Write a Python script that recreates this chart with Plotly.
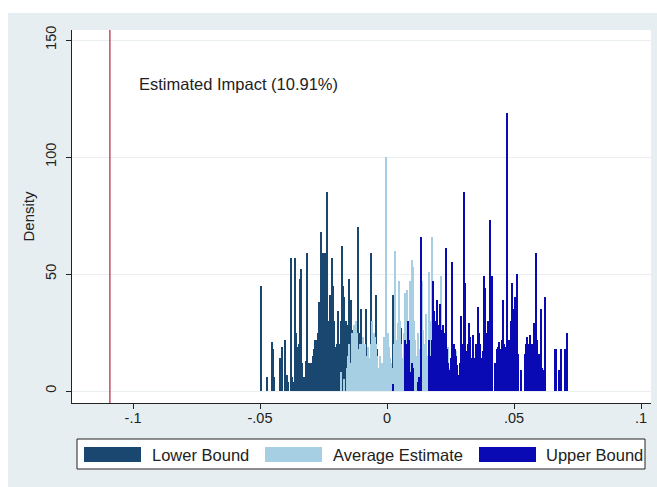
import numpy as np
import plotly.graph_objects as go

# Histogram bins: every series uses the same bin width
bin_width = 0.0005

lower_start = -0.0500
lower_density = [
    45, 0, 0, 0, 0, 6, 0, 0, 0, 21,
    18, 6, 0, 0, 0, 14, 12, 19, 0, 22,
    0, 7, 4, 0, 57, 6, 4, 57, 25, 19,
    20, 48, 52, 12, 6, 0, 13, 59, 12, 6,
    12, 15, 18, 22, 22, 25, 38, 22, 68, 59,
    59, 59, 85, 30, 28, 41, 57, 45, 30, 19,
    20, 34, 20, 30, 62, 45, 40, 30, 28, 12,
    48, 39, 20, 26, 10, 30, 27, 70, 25, 35,
    8, 12, 6, 35, 10, 6, 12, 59, 10, 6,
    8, 41, 18, 5, 6, 0, 4, 0, 3, 0,
    5, 0, 0, 3, 41, 0, 0, 0, 0, 0,
    0, 27,
]

average_start = -0.0200
average_density = [
    0, 0, 0, 8, 0, 0, 5, 0, 10, 15,
    20, 12, 25, 18, 28, 30, 25, 18, 20, 15,
    20, 23, 20, 15, 12, 19, 14, 20, 30, 25,
    23, 20, 15, 10, 15, 10, 12, 23, 18, 100,
    25, 19, 14, 12, 10, 20, 60, 22, 29, 47,
    30, 20, 14, 25, 42, 43, 30, 20, 47, 56,
    53, 30, 22, 15, 25, 18, 12, 47, 26, 20,
    33, 15, 7, 51, 30, 66, 25, 30, 20, 28,
    15, 35, 49, 20, 15, 25, 10, 18, 19, 10,
    14, 8, 12, 6, 17, 8, 5, 4,
]

upper_start = 0.0000
upper_density = [
    0, 0, 0, 0, 3, 0, 0, 0, 0, 0,
    0, 0, 0, 0, 22, 20, 30, 22, 8, 12,
    10, 0, 0, 0, 4, 6, 66, 0, 0, 0,
    0, 0, 0, 22, 15, 22, 47, 34, 30, 39,
    28, 37, 26, 20, 28, 25, 61, 18, 12, 9,
    14, 55, 20, 18, 15, 11, 7, 12, 32, 20,
    85, 46, 17, 20, 29, 23, 14, 24, 14, 8,
    20, 36, 25, 20, 14, 17, 49, 44, 25, 30,
    17, 73, 49, 0, 0, 12, 18, 19, 21, 18,
    22, 39, 20, 19, 119, 5, 22, 30, 46, 35,
    40, 35, 50, 16, 0, 9, 0, 0, 16, 20,
    23, 20, 24, 18, 20, 29, 20, 59, 22, 16,
    0, 35, 10, 9, 40, 0, 0, 0, 0, 0,
    0, 0, 18, 18, 0, 9, 0, 18, 0, 0,
    18, 25,
]

series_names = ["Lower Bound", "Average Estimate", "Upper Bound"]
series_colors = ["#1a476f", "#a6cfe3", "#0a0ab4"]

estimated_impact = -0.1091
impact_label = "Estimated Impact (10.91%)"

x_tickvals = [-0.1, -0.05, 0, 0.05, 0.1]
x_ticktext = ["-.1", "-.05", "0", ".05", ".1"]
y_tickvals = [0, 50, 100, 150]

FONT = "Liberation Sans, Arial, Helvetica, sans-serif"
BG = "#e6eef1"


def centers(start, values):
    return start + bin_width * (np.arange(len(values)) + 0.5)


fig = go.Figure()
for name, color, start, vals in zip(
    series_names,
    series_colors,
    [lower_start, average_start, upper_start],
    [lower_density, average_density, upper_density],
):
    fig.add_trace(
        go.Bar(
            x=centers(start, vals),
            y=vals,
            width=bin_width,
            name=name,
            marker=dict(color=color, line=dict(width=0)),
            showlegend=False,
        )
    )

# pixel -> paper helpers for the plot frame (plot area 72..651 x 30..403)
L, R, T, B = 72, 651, 30, 403


def px(xp):
    return (xp - L) / (R - L)


def py(yp):
    return (B - yp) / (B - T)


shapes = [
    # white strips around the grey graph region
    dict(type="rect", xref="paper", yref="paper", x0=px(0), x1=px(657),
         y0=py(13), y1=py(0), fillcolor="white", line_width=0, layer="below"),
    dict(type="rect", xref="paper", yref="paper", x0=px(0), x1=px(8),
         y0=py(487), y1=py(0), fillcolor="white", line_width=0, layer="below"),
    # estimated impact marker
    dict(type="line", xref="x", yref="paper", x0=estimated_impact,
         x1=estimated_impact, y0=0, y1=1,
         line=dict(color="#b8334d", width=1.3)),
    # legend frame
    dict(type="rect", xref="paper", yref="paper", x0=px(77), x1=px(645),
         y0=py(469), y1=py(439), fillcolor="white",
         line=dict(color="#222222", width=1)),
]

annotations = [
    dict(x=estimated_impact + 0.0107, y=131, xref="x", yref="y",
         text=impact_label, showarrow=False, xanchor="left",
         font=dict(family=FONT, size=16.5, color="#222222")),
]

swatch_x = [(84, 141), (265, 322), (479, 536)]
label_x = [150, 331, 544]
for (sx0, sx1), lx, name, color in zip(swatch_x, label_x, series_names, series_colors):
    shapes.append(dict(type="rect", xref="paper", yref="paper",
                       x0=px(sx0), x1=px(sx1), y0=py(462), y1=py(447),
                       fillcolor=color, line_width=0))
    annotations.append(dict(x=px(lx), y=py(454.5), xref="paper", yref="paper",
                            text=name, showarrow=False, xanchor="left",
                            yanchor="middle",
                            font=dict(family=FONT, size=16.5, color="#222222")))

fig.update_layout(
    width=657,
    height=487,
    margin=dict(l=L, r=657 - R, t=T, b=487 - B),
    paper_bgcolor=BG,
    plot_bgcolor="white",
    barmode="overlay",
    bargap=0,
    font=dict(family=FONT, size=14, color="#222222"),
    shapes=shapes,
    annotations=annotations,
    showlegend=False,
)

fig.update_xaxes(
    range=[(L - 387) / 2540, (R - 387) / 2540],
    tickvals=x_tickvals,
    ticktext=x_ticktext,
    ticks="outside",
    ticklen=5,
    tickcolor="#222222",
    showline=True,
    linecolor="#222222",
    linewidth=1,
    showgrid=False,
    zeroline=False,
    tickfont=dict(size=14.5),
    ticklabelstandoff=-3,
)

fig.update_yaxes(
    range=[(391 - B) / 2.34, (391 - T) / 2.34],
    tickvals=y_tickvals,
    tickangle=-90,
    ticks="outside",
    ticklen=5,
    tickcolor="#222222",
    showline=True,
    linecolor="#222222",
    linewidth=1,
    showgrid=True,
    gridcolor="#e9eff1",
    gridwidth=1,
    zeroline=False,
    tickfont=dict(size=14.5),
    ticklabelstandoff=4,
    title=dict(text="Density", font=dict(size=15), standoff=4),
)

fig.write_html("out.html")
